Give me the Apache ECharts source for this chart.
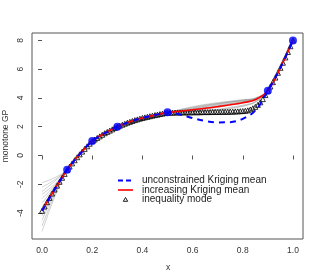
<!DOCTYPE html>
<html><head><meta charset="utf-8">
<script src="https://cdn.jsdelivr.net/npm/echarts@6/dist/echarts.min.js"></script>
<style>html,body{margin:0;padding:0;background:#fff}#c{width:320px;height:280px}</style>
</head><body><div id="c"></div>
<script>
var gridX = [0,0.05,0.1,0.15,0.2,0.25,0.3,0.35,0.4,0.45,0.5,0.55,0.6,0.65,0.7,0.75,0.8,0.85,0.9,0.95,1.0];
var unconstrainedMean = [-3.85,-2.37,-1.0,0.08,1.0,1.55,2.0,2.34,2.61,2.81,2.98,2.85,2.6,2.4,2.3,2.32,2.55,3.12,4.5,6.1,8.0];
var increasingMean = [-3.85,-2.37,-1.0,0.08,1.0,1.55,2.0,2.34,2.61,2.81,2.98,3.08,3.18,3.28,3.4,3.53,3.67,3.88,4.5,6.1,8.0];
var samplePaths = [
 [-1.9,-1.55,-1.0,0.05,1.0,1.55,2.0,2.3,2.55,2.75,2.98,3.1,3.25,3.4,3.55,3.7,3.85,4.0,4.5,6.1,8.0],
 [-2.5,-1.8,-1.0,0.06,1.0,1.55,2.0,2.28,2.5,2.7,2.98,3.05,3.15,3.3,3.45,3.6,3.75,3.92,4.5,6.1,8.0],
 [-2.7,-2.0,-1.0,0.07,1.0,1.55,2.0,2.33,2.58,2.8,2.98,3.2,3.4,3.55,3.68,3.78,3.88,3.98,4.5,6.08,8.0],
 [-3.0,-2.1,-1.0,0.08,1.0,1.55,2.0,2.32,2.6,2.8,2.98,3.02,3.06,3.12,3.2,3.35,3.5,3.75,4.5,6.12,8.0],
 [-3.3,-2.2,-1.0,0.08,1.0,1.55,2.0,2.34,2.6,2.8,2.98,3.1,3.22,3.36,3.5,3.62,3.74,3.9,4.5,6.1,8.0],
 [-3.6,-2.3,-1.0,0.08,1.0,1.55,2.0,2.3,2.52,2.72,2.98,3.0,3.03,3.08,3.15,3.25,3.42,3.7,4.5,6.1,8.0],
 [-4.2,-2.5,-1.0,0.1,1.0,1.55,2.0,2.35,2.62,2.82,2.98,3.15,3.32,3.48,3.62,3.75,3.85,3.95,4.5,6.1,8.0],
 [-4.5,-2.6,-1.0,0.1,1.0,1.55,2.0,2.33,2.57,2.78,2.98,3.05,3.12,3.22,3.35,3.5,3.65,3.85,4.5,6.1,8.0],
 [-4.9,-2.75,-1.0,0.12,1.0,1.55,2.0,2.34,2.6,2.81,2.98,3.08,3.2,3.3,3.42,3.56,3.72,3.92,4.5,6.1,8.0],
 [-5.28,-2.9,-1.0,0.12,1.0,1.55,2.0,2.3,2.55,2.76,2.98,3.12,3.28,3.44,3.58,3.7,3.82,3.96,4.5,6.1,8.0],
 [-2.2,-1.7,-1.0,0.06,1.0,1.55,2.0,2.34,2.6,2.8,2.98,3.0,3.05,3.1,3.18,3.3,3.45,3.72,4.5,6.1,8.0],
 [-3.9,-2.4,-1.0,0.09,1.0,1.55,2.0,2.32,2.58,2.78,2.98,3.18,3.35,3.5,3.62,3.72,3.8,3.93,4.5,6.1,8.0]
];
var modeY = [-3.85,-3.55,-3.25,-2.95,-2.65,-2.37,-2.1,-1.83,-1.55,-1.28,
 -1.0,-0.77,-0.55,-0.33,-0.12,0.08,0.27,0.46,0.64,0.82,
 1.0,1.11,1.22,1.33,1.44,1.55,1.64,1.73,1.82,1.91,
 2.0,2.07,2.14,2.21,2.28,2.34,2.40,2.46,2.51,2.56,
 2.61,2.65,2.69,2.73,2.77,2.81,2.84,2.88,2.91,2.95,
 2.98,2.98,2.98,2.99,2.99,2.99,3.0,3.0,3.0,3.0,
 3.01,3.01,3.01,3.01,3.02,3.02,3.02,3.02,3.03,3.03,
 3.03,3.03,3.04,3.04,3.04,3.05,3.05,3.06,3.07,3.08,
 3.09,3.11,3.14,3.2,3.28,3.38,3.52,3.7,3.92,4.2,
 4.5,4.8,5.1,5.42,5.75,6.1,6.45,6.82,7.2,7.6,8.0];
var modeX = modeY.map(function(_, i){ return i / 100; });
var designX = [0.1,0.2,0.3,0.5,0.9,1.0];
var designY = [-1.0,1.0,2.0,3.0,4.5,8.0];
var xTicks = [0,0.2,0.4,0.6,0.8,1.0];
var yTicks = [-4,-2,0,2,4,6,8];
var legendLabels = ['unconstrained Kriging mean','increasing Kriging mean','inequality mode'];
var xTitle = 'x', yTitle = 'monotone GP';

function pairs(xs, ys){ return ys.map(function(y,i){ return [xs[i], y]; }); }
var FONT = '"Liberation Sans", Arial, Helvetica, sans-serif';
var series = [];
samplePaths.forEach(function(p){
  series.push({type:'line', data:pairs(gridX,p), showSymbol:false, smooth:0.35, silent:true,
    lineStyle:{color:'rgba(140,140,140,0.5)', width:0.8}, z:1});
});
series.push({type:'scatter', data:pairs(modeX,modeY), symbol:'triangle', symbolSize:5,
  itemStyle:{color:'rgba(0,0,0,0)', borderColor:'#000', borderWidth:1}, z:2});
series.push({type:'line', data:pairs(gridX,increasingMean), showSymbol:false, smooth:0.35,
  lineStyle:{color:'#ff0000', width:1.6}, z:3});
series.push({type:'line', data:pairs(gridX,unconstrainedMean), showSymbol:false, smooth:0.35,
  lineStyle:{color:'#0000ff', width:2, type:[6,5]}, z:4});
series.push({type:'scatter', data:pairs(designX,designY), symbol:'circle', symbolSize:8,
  itemStyle:{color:'#0000ff'}, z:5});

var chart = echarts.init(document.getElementById('c'), null, {renderer:'canvas'});
chart.setOption({
  animation:false,
  grid:{left:32, top:33, width:271, height:206, show:true, borderColor:'#555', borderWidth:1, backgroundColor:'transparent'},
  xAxis:{type:'value', min:-0.04, max:1.04, axisLine:{show:false}, splitLine:{show:false},
    axisTick:{show:true, inside:false, length:4, customValues:xTicks, lineStyle:{color:'#555'}},
    axisLabel:{customValues:xTicks, margin:7, fontSize:8.5, color:'#333', fontFamily:FONT,
      formatter:function(v){ return v.toFixed(1); }}},
  yAxis:{type:'value', min:-5.81, max:8.52, axisLine:{show:false}, splitLine:{show:false},
    axisTick:{show:true, inside:false, length:4, customValues:yTicks, lineStyle:{color:'#555'}},
    axisLabel:{customValues:yTicks, margin:7, fontSize:8.5, color:'#333', rotate:90, fontFamily:FONT,
      formatter:function(v){ return String(Math.round(v)); }}},
  series:series,
  graphic:[
    {type:'text', x:168, y:268, style:{text:xTitle, fontSize:8.5, fill:'#333', fontFamily:FONT, textAlign:'center', textVerticalAlign:'middle'}},
    {type:'text', x:6, y:136, rotation:Math.PI/2, style:{text:yTitle, fontSize:8.5, fill:'#333', fontFamily:FONT, textAlign:'center', textVerticalAlign:'middle'}},
    {type:'line', shape:{x1:118, y1:180.5, x2:133, y2:180.5}, style:{stroke:'#0000ff', lineWidth:2, lineDash:[5,3]}},
    {type:'line', shape:{x1:118, y1:190, x2:133, y2:190}, style:{stroke:'#ff0000', lineWidth:1.6}},
    {type:'polygon', shape:{points:[[125.5,197.5],[123.3,201.3],[127.7,201.3]]}, style:{fill:'none', stroke:'#000', lineWidth:0.9}},
    {type:'text', x:142, y:180.5, style:{text:legendLabels[0], fontSize:10, fill:'#222', fontFamily:FONT, textVerticalAlign:'middle'}},
    {type:'text', x:142, y:190, style:{text:legendLabels[1], fontSize:10, fill:'#222', fontFamily:FONT, textVerticalAlign:'middle'}},
    {type:'text', x:142, y:199.5, style:{text:legendLabels[2], fontSize:10, fill:'#222', fontFamily:FONT, textVerticalAlign:'middle'}}
  ]
});
</script></body></html>
